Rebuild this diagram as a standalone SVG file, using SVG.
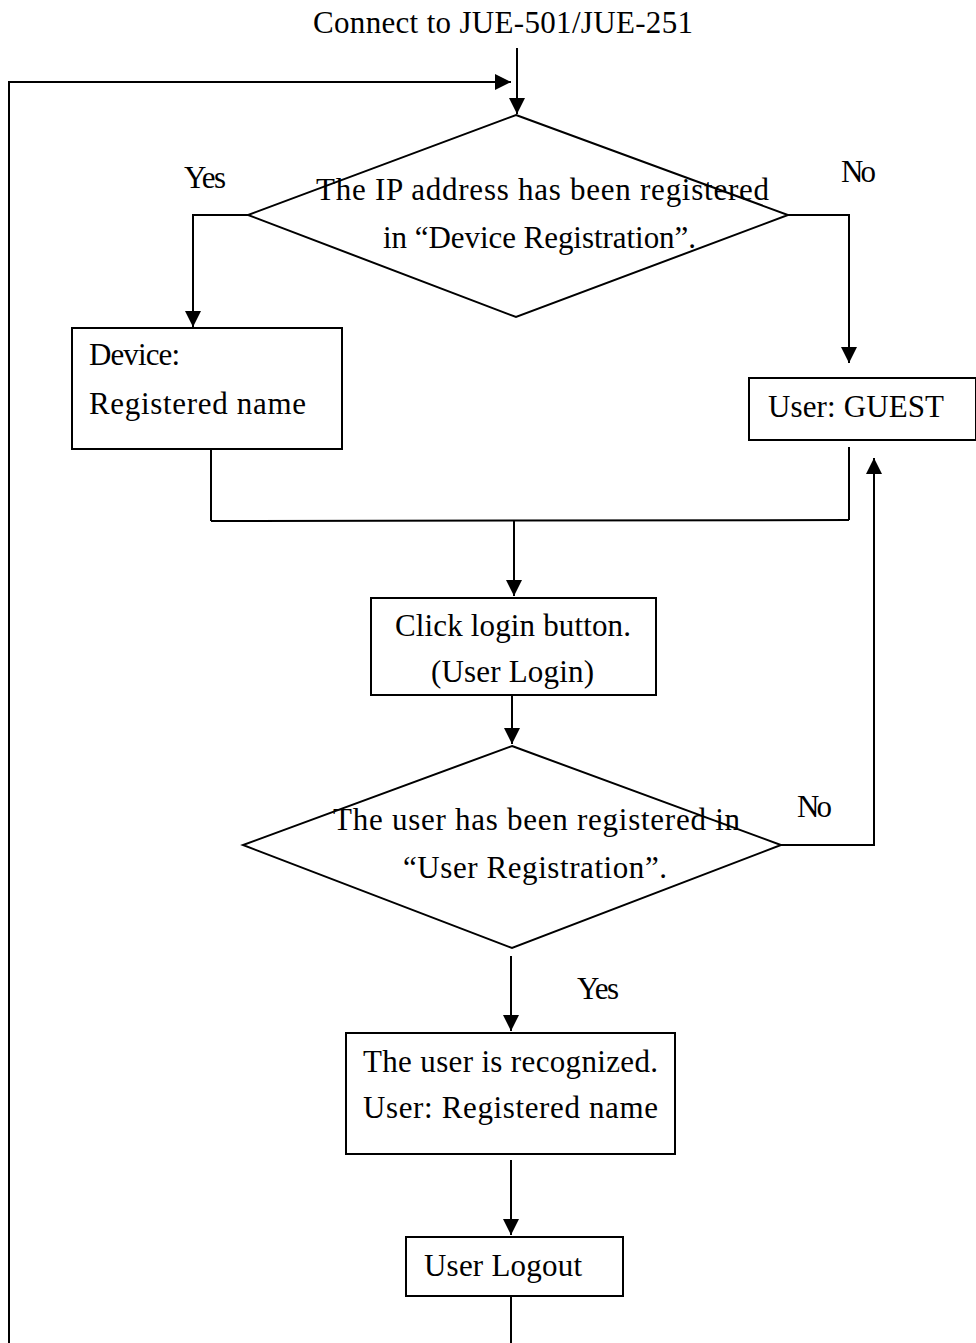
<svg xmlns="http://www.w3.org/2000/svg" width="976" height="1343" viewBox="0 0 976 1343">
<style>
text{font-family:"Liberation Serif","Times New Roman",serif;font-size:31px;fill:#000}
.box{fill:#fff;stroke:#000;stroke-width:2}
.ln{fill:none;stroke:#000;stroke-width:2}
</style>
<defs>
<marker id="ah" markerUnits="userSpaceOnUse" markerWidth="16" markerHeight="16" refX="16" refY="8" orient="auto" viewBox="0 0 16 16">
<path d="M0,0 L16,8 L0,16 z" fill="#000"/>
</marker>
</defs>
<rect width="976" height="1343" fill="#fff"/>
<text x="313" y="33" textLength="380" lengthAdjust="spacing">Connect to JUE-501/JUE-251</text>
<g id="connectors">
<path class="ln" d="M517,48 V114" marker-end="url(#ah)"/>
<path class="ln" d="M9,1343 V82 H511" marker-end="url(#ah)"/>
<path class="ln" d="M248,215 H193 V327" marker-end="url(#ah)"/>
<path class="ln" d="M788,215 H849 V363" marker-end="url(#ah)"/>
<path class="ln" d="M211,449 V521"/>
<path class="ln" d="M849,447 V520"/>
<path class="ln" d="M211,521 L849,520"/>
<path class="ln" d="M514,521 V596" marker-end="url(#ah)"/>
<path class="ln" d="M512,695 V744" marker-end="url(#ah)"/>
<path class="ln" d="M781,845 H874 V458" marker-end="url(#ah)"/>
<path class="ln" d="M511,956 V1031" marker-end="url(#ah)"/>
<path class="ln" d="M511,1160 V1235" marker-end="url(#ah)"/>
<path class="ln" d="M511,1296 V1343"/>
<text x="184" y="188" textLength="42" lengthAdjust="spacing">Yes</text>
<text x="841" y="182" textLength="35" lengthAdjust="spacing">No</text>
<text x="797" y="817" textLength="35" lengthAdjust="spacing">No</text>
<text x="577" y="999" textLength="42" lengthAdjust="spacing">Yes</text>
</g>
<g id="decision1">
<polygon class="box" points="516,115 788,215 516,317 248,215" style="fill:none"/>
<text x="316" y="200" textLength="453" lengthAdjust="spacing">The IP address has been registered</text>
<text x="383" y="248" textLength="313" lengthAdjust="spacing">in “Device Registration”.</text>
</g>
<g id="device">
<rect class="box" x="72" y="328" width="270" height="121"/>
<text x="89" y="365" textLength="91" lengthAdjust="spacing">Device:</text>
<text x="89" y="414" textLength="217" lengthAdjust="spacing">Registered name</text>
</g>
<g id="guest">
<rect class="box" x="749" y="378" width="227" height="62"/>
<text x="768" y="417" textLength="176" lengthAdjust="spacing">User: GUEST</text>
</g>
<g id="login">
<rect class="box" x="371" y="598" width="285" height="97"/>
<text x="395" y="636" textLength="236" lengthAdjust="spacing">Click login button.</text>
<text x="431" y="682" textLength="163" lengthAdjust="spacing">(User Login)</text>
</g>
<g id="decision2">
<polygon class="box" points="512,746 781,845 512,948 243,845" style="fill:none"/>
<text x="333" y="830" textLength="407" lengthAdjust="spacing">The user has been registered in</text>
<text x="403" y="878" textLength="264" lengthAdjust="spacing">“User Registration”.</text>
</g>
<g id="recognized">
<rect class="box" x="346" y="1033" width="329" height="121"/>
<text x="363" y="1072" textLength="295" lengthAdjust="spacing">The user is recognized.</text>
<text x="363" y="1118" textLength="295" lengthAdjust="spacing">User: Registered name</text>
</g>
<g id="logout">
<rect class="box" x="406" y="1237" width="217" height="59"/>
<text x="424" y="1276" textLength="158" lengthAdjust="spacing">User Logout</text>
</g>
</svg>
